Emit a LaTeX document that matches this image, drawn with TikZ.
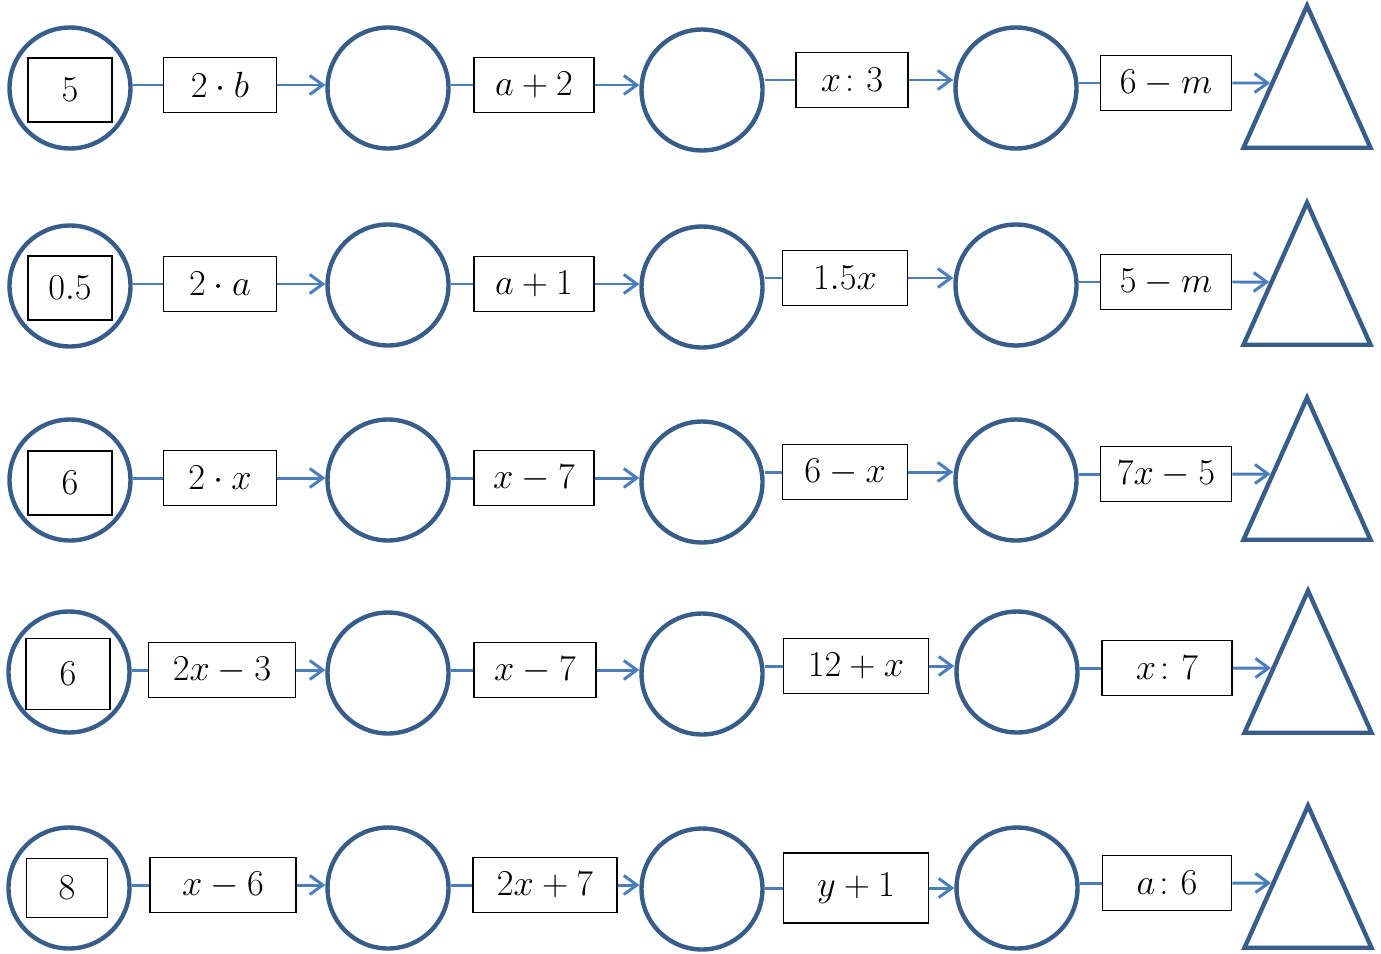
\documentclass[tikz,border=0pt]{standalone}
\usepackage{amsmath}
\usepackage{tikz}
\usetikzlibrary{arrows.meta,calc,shapes.geometric}

\begin{document}
\begin{tikzpicture}[x=0.02cm, y=-0.02cm,
  ring/.style={circle, draw=ringblue, line width=2.5pt, minimum size=2.42cm,
    inner sep=0pt},
  seed/.style={draw=black, line width=0.9pt, fill=white, minimum width=1.68cm,
    minimum height=1.28cm, inner sep=0pt, font=\huge},
  op/.style={draw=black, line width=0.9pt, fill=white, minimum width=2.26cm,
    minimum height=1.1cm, inner sep=0pt, font=\huge},
  goal/.style={isosceles triangle, isosceles triangle stretches,
    shape border rotate=90, draw=ringblue, line width=2.5pt,
    minimum width=2.54cm, minimum height=2.84cm, inner sep=0pt, anchor=apex},
  link/.style={draw=linkblue, line width=1.7pt},
  flow/.style={-{Straight Barb[length=2.6mm, width=3.8mm]}, draw=linkblue,
    line width=1.7pt}
]
\definecolor{ringblue}{RGB}{56,93,138}
\definecolor{linkblue}{RGB}{74,126,187}
\useasboundingbox (0,0) rectangle (1381,953);

% row 1
\node[ring] (r1a) at (70,88) {};
\node[seed] (s1) at (70,90) {$5$};
\node[op] (o1a) at (220,85) {$2\cdot b$};
\node[ring] (r1b) at (388,88) {};
\node[op, minimum width=2.4cm] (o1b) at (534,85) {$a+2$};
\node[ring] (r1c) at (702,90) {};
\node[op, minimum width=2.24cm] (o1c) at (852,80) {$x\colon 3$};
\node[ring] (r1d) at (1016,88) {};
\node[op, minimum width=2.62cm] (o1d) at (1166,83) {$6-m$};
\node[goal] (g1) at (1307,0) {};

% row 2
\node[ring] (r2a) at (70,286) {};
\node[seed] (s2) at (70,288) {$0.5$};
\node[op] (o2a) at (220,284) {$2\cdot a$};
\node[ring] (r2b) at (388,285) {};
\node[op, minimum width=2.4cm] (o2b) at (534,284) {$a+1$};
\node[ring] (r2c) at (702,287) {};
\node[op, minimum width=2.5cm] (o2c) at (845,278) {$1.5x$};
\node[ring] (r2d) at (1016,285) {};
\node[op, minimum width=2.62cm] (o2d) at (1166,282) {$5-m$};
\node[goal] (g2) at (1307,197) {};

% row 3
\node[ring] (r3a) at (70,480) {};
\node[seed] (s3) at (70,483) {$6$};
\node[op] (o3a) at (220,478) {$2\cdot x$};
\node[ring] (r3b) at (388,480) {};
\node[op, minimum width=2.4cm] (o3b) at (534,478) {$x-7$};
\node[ring] (r3c) at (702,482) {};
\node[op, minimum width=2.5cm] (o3c) at (845,472) {$6-x$};
\node[ring] (r3d) at (1016,480) {};
\node[op, minimum width=2.62cm] (o3d) at (1166,474) {$7x-5$};
\node[goal] (g3) at (1307,392) {};

% row 4
\node[ring] (r4a) at (69,672) {};
\node[seed, minimum height=1.42cm] (s4) at (68,674) {$6$};
\node[op, minimum width=2.94cm] (o4a) at (222,670) {$2x-3$};
\node[ring] (r4b) at (388,673) {};
\node[op, minimum width=2.44cm] (o4b) at (535,670) {$x-7$};
\node[ring] (r4c) at (702,674) {};
\node[op, minimum width=2.9cm] (o4c) at (856,666) {$12+x$};
\node[ring] (r4d) at (1017,672) {};
\node[op, minimum width=2.6cm] (o4d) at (1167,668) {$x\colon 7$};
\node[goal] (g4) at (1308,585) {};

% row 5
\node[ring] (r5a) at (69,888) {};
\node[seed, minimum width=1.62cm, minimum height=1.18cm] (s5) at (67,888) {$8$};
\node[op, minimum width=2.92cm] (o5a) at (223,885) {$x-6$};
\node[ring] (r5b) at (388,888) {};
\node[op, minimum width=2.88cm] (o5b) at (545,885) {$2x+7$};
\node[ring] (r5c) at (702,889) {};
\node[op, minimum width=2.9cm, minimum height=1.4cm] (o5c) at (856,888) {$y+1$};
\node[ring] (r5d) at (1017,888) {};
\node[op, minimum width=2.58cm] (o5d) at (1167,883) {$a\colon 6$};
\node[goal] (g5) at (1308,800) {};

% connectors
\foreach \r in {1,...,5} {
  \draw[link] (o\r a.west -| r\r a.east) -- (o\r a.west);
  \draw[flow] (o\r a.east) -- (o\r a.east -| r\r b.west);
  \draw[link] (o\r b.west -| r\r b.east) -- (o\r b.west);
  \draw[flow] (o\r b.east) -- (o\r b.east -| r\r c.west);
  \draw[link] (o\r c.west -| r\r c.east) -- (o\r c.west);
  \draw[flow] (o\r c.east) -- (o\r c.east -| r\r d.west);
  \draw[link] (o\r d.west -| r\r d.east) -- (o\r d.west);
  \draw[flow] (o\r d.east) --
    (intersection of o\r d.east--o\r d.center and g\r.left corner--g\r.apex);
}
\end{tikzpicture}
\end{document}
